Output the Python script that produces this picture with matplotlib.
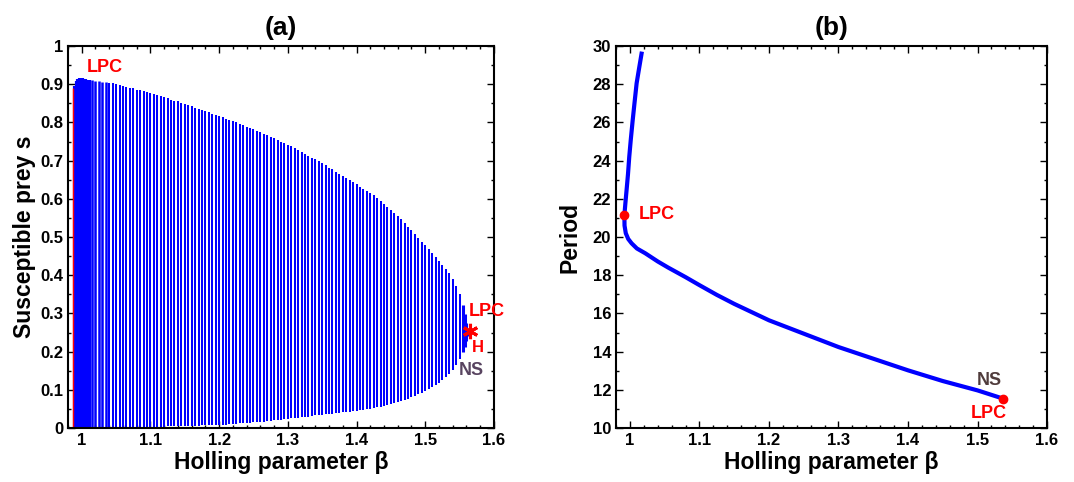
import numpy as np
import matplotlib.pyplot as plt
from matplotlib.ticker import MultipleLocator, FormatStrFormatter

plt.rcParams['font.family'] = ['Liberation Sans', 'DejaVu Sans']
plt.rcParams['font.weight'] = 'bold'

# (a) limit cycle extent: one vertical stripe per continuation step
beta_cyc = [0.9900, 0.9925, 0.9950, 0.9975,
            1.000, 1.005, 1.010, 1.015, 1.020, 1.025, 1.030, 1.035, 1.040, 1.045,
            1.050, 1.055, 1.060, 1.065, 1.070, 1.075, 1.080, 1.085, 1.090, 1.095,
            1.100, 1.105, 1.110, 1.115, 1.120, 1.125, 1.130, 1.135, 1.140, 1.145,
            1.150, 1.155, 1.160, 1.165, 1.170, 1.175, 1.180, 1.185, 1.190, 1.195,
            1.200, 1.205, 1.210, 1.215, 1.220, 1.225, 1.230, 1.235, 1.240, 1.245,
            1.250, 1.255, 1.260, 1.265, 1.270, 1.275, 1.280, 1.285, 1.290, 1.295,
            1.300, 1.305, 1.310, 1.315, 1.320, 1.325, 1.330, 1.335, 1.340, 1.345,
            1.350, 1.355, 1.360, 1.365, 1.370, 1.375, 1.380, 1.385, 1.390, 1.395,
            1.400, 1.405, 1.410, 1.415, 1.420, 1.425, 1.430, 1.435, 1.440, 1.445,
            1.450, 1.455, 1.460, 1.465, 1.470, 1.475, 1.480, 1.485, 1.490, 1.495,
            1.500, 1.505, 1.510, 1.515, 1.520, 1.525, 1.530, 1.535, 1.540, 1.545,
            1.550, 1.555, 1.558, 1.560, 1.562]
s_max = [0.895, 0.908, 0.913, 0.915,
         0.915, 0.914, 0.912, 0.911, 0.909, 0.908, 0.906, 0.905, 0.903, 0.902,
         0.900, 0.898, 0.895, 0.893, 0.891, 0.889, 0.886, 0.884, 0.882, 0.879,
         0.877, 0.874, 0.871, 0.869, 0.866, 0.863, 0.860, 0.857, 0.855, 0.852,
         0.849, 0.846, 0.843, 0.839, 0.836, 0.833, 0.830, 0.827, 0.823, 0.820,
         0.816, 0.813, 0.810, 0.806, 0.803, 0.800, 0.796, 0.793, 0.789, 0.786,
         0.782, 0.778, 0.774, 0.770, 0.766, 0.762, 0.758, 0.754, 0.750, 0.746,
         0.742, 0.738, 0.733, 0.728, 0.723, 0.718, 0.713, 0.708, 0.703, 0.698,
         0.693, 0.688, 0.682, 0.677, 0.671, 0.666, 0.660, 0.655, 0.649, 0.644,
         0.638, 0.632, 0.627, 0.621, 0.615, 0.609, 0.603, 0.595, 0.587, 0.579,
         0.571, 0.563, 0.555, 0.547, 0.537, 0.527, 0.518, 0.508, 0.498, 0.488,
         0.478, 0.468, 0.458, 0.448, 0.438, 0.428, 0.417, 0.405, 0.390, 0.372,
         0.350, 0.322, 0.298, 0.275, 0.258]
s_min = [0.000, 0.000, 0.000, 0.000,
         0.000, 0.000, 0.000, 0.000, 0.000, 0.000, 0.000, 0.000, 0.001, 0.001,
         0.001, 0.001, 0.001, 0.001, 0.001, 0.002, 0.002, 0.002, 0.002, 0.002,
         0.002, 0.003, 0.003, 0.003, 0.003, 0.004, 0.004, 0.004, 0.005, 0.005,
         0.005, 0.005, 0.006, 0.006, 0.006, 0.007, 0.007, 0.007, 0.008, 0.008,
         0.008, 0.009, 0.009, 0.010, 0.011, 0.011, 0.012, 0.013, 0.013, 0.014,
         0.015, 0.015, 0.016, 0.017, 0.018, 0.019, 0.020, 0.021, 0.022, 0.023,
         0.024, 0.025, 0.026, 0.027, 0.028, 0.029, 0.030, 0.032, 0.033, 0.034,
         0.035, 0.036, 0.037, 0.038, 0.039, 0.040, 0.041, 0.042, 0.043, 0.044,
         0.045, 0.047, 0.048, 0.050, 0.051, 0.053, 0.054, 0.056, 0.058, 0.060,
         0.062, 0.065, 0.068, 0.071, 0.074, 0.077, 0.080, 0.084, 0.088, 0.092,
         0.097, 0.102, 0.107, 0.113, 0.119, 0.126, 0.133, 0.142, 0.153, 0.166,
         0.181, 0.198, 0.213, 0.228, 0.242]

lpc_line_beta = 0.988
lpc_line_top = 0.89
hopf_beta, hopf_s = 1.5655, 0.255

# (b) period along the branch
beta_T = [1.0167, 1.0130, 1.0096, 1.0065, 1.0039, 1.0012, 0.9990, 0.9972,
          0.9955, 0.9935, 0.9920, 0.9922, 0.9940, 0.9975, 1.0024, 1.0100,
          1.0220, 1.0400, 1.0550, 1.0800, 1.1000, 1.1250, 1.1500, 1.2000,
          1.2500, 1.3000, 1.3500, 1.4000, 1.4500, 1.5000, 1.5367]
period = [29.6, 28.8, 28.05, 27.0, 26.1, 25.1, 24.2, 23.3,
          22.6, 21.8, 21.15, 20.6, 20.2, 19.9, 19.67, 19.4,
          19.15, 18.72, 18.40, 17.90, 17.48, 16.97, 16.50, 15.64,
          14.94, 14.24, 13.63, 13.02, 12.46, 11.97, 11.54]
lpc_pt = (0.9919, 21.13)
ns_pt = (1.5367, 11.54)

fig = plt.figure(figsize=(10.74, 4.82), dpi=100)
ax1 = fig.add_axes([0.0633, 0.112, 0.3966, 0.7925])
ax2 = fig.add_axes([0.5736, 0.112, 0.4013, 0.7925])

# stripes: wider near beta=1 where the steps are packed
b = np.array(beta_cyc)
lw = np.where(b < 1.015, 3.0, np.where(b < 1.04, 1.8, 1.45))
lw = np.where(b > 1.553, 2.2, lw)
ax1.vlines(beta_cyc, s_min, s_max, colors='#0000ff', linewidths=lw)
ax1.vlines(lpc_line_beta, 0, lpc_line_top, colors='red', linewidths=1.0)
# matlab style asterisk
ax1.plot(hopf_beta, hopf_s, marker=(6, 2, 0), color='red', markersize=11,
         markeredgewidth=2.2, linestyle='none')
ax1.text(1.007, 0.945, 'LPC', color='red', fontsize=13, fontweight='bold', va='center')
ax1.text(1.563, 0.305, 'LPC', color='red', fontsize=13, fontweight='bold', va='center')
ax1.text(1.568, 0.21, 'H', color='red', fontsize=12, fontweight='bold', va='center')
ax1.text(1.549, 0.150, 'NS', color='#584460', fontsize=13, fontweight='bold', va='center')

ax2.plot(beta_T, period, color='#0000ff', linewidth=3)
ax2.plot(*lpc_pt, 'o', color='red', markersize=6)
ax2.plot(*ns_pt, 'o', color='red', markersize=6)
ax2.text(1.013, 21.2, 'LPC', color='red', fontsize=13, fontweight='bold', va='center')
ax2.text(1.499, 12.5, 'NS', color='#503c3c', fontsize=13, fontweight='bold', va='center')
ax2.text(1.490, 10.75, 'LPC', color='red', fontsize=13, fontweight='bold', va='center')

ax1.set_xlim(0.98, 1.6)
ax1.set_ylim(0, 1)
ax1.yaxis.set_major_locator(MultipleLocator(0.1))
ax1.yaxis.set_minor_locator(MultipleLocator(0.05))
ax1.set_ylabel('Susceptible prey s', fontsize=16.5, fontweight='bold', labelpad=3)
ax1.set_title('(a)', fontsize=19, fontweight='bold', pad=8)

ax2.set_xlim(0.98, 1.6)
ax2.set_ylim(10, 30)
ax2.yaxis.set_major_locator(MultipleLocator(2))
ax2.yaxis.set_minor_locator(MultipleLocator(1))
ax2.set_ylabel('Period', fontsize=16.5, fontweight='bold', labelpad=8)
ax2.set_title('(b)', fontsize=19, fontweight='bold', pad=8)

for ax in (ax1, ax2):
    ax.xaxis.set_major_locator(MultipleLocator(0.1))
    ax.xaxis.set_minor_locator(MultipleLocator(0.02))
    ax.xaxis.set_major_formatter(FormatStrFormatter('%g'))
    ax.yaxis.set_major_formatter(FormatStrFormatter('%g'))
    ax.set_xlabel('Holling parameter β', fontsize=16.5, fontweight='bold', labelpad=2)
    ax.tick_params(which='both', direction='in', top=True, right=True, labelsize=12, width=1)
    ax.tick_params(which='major', length=5)
    ax.tick_params(which='minor', length=2.5)
    for lab in ax.get_xticklabels() + ax.get_yticklabels():
        lab.set_fontweight('bold')
    for sp in ax.spines.values():
        sp.set_linewidth(1.5)

fig.savefig('out.png', dpi=100)
